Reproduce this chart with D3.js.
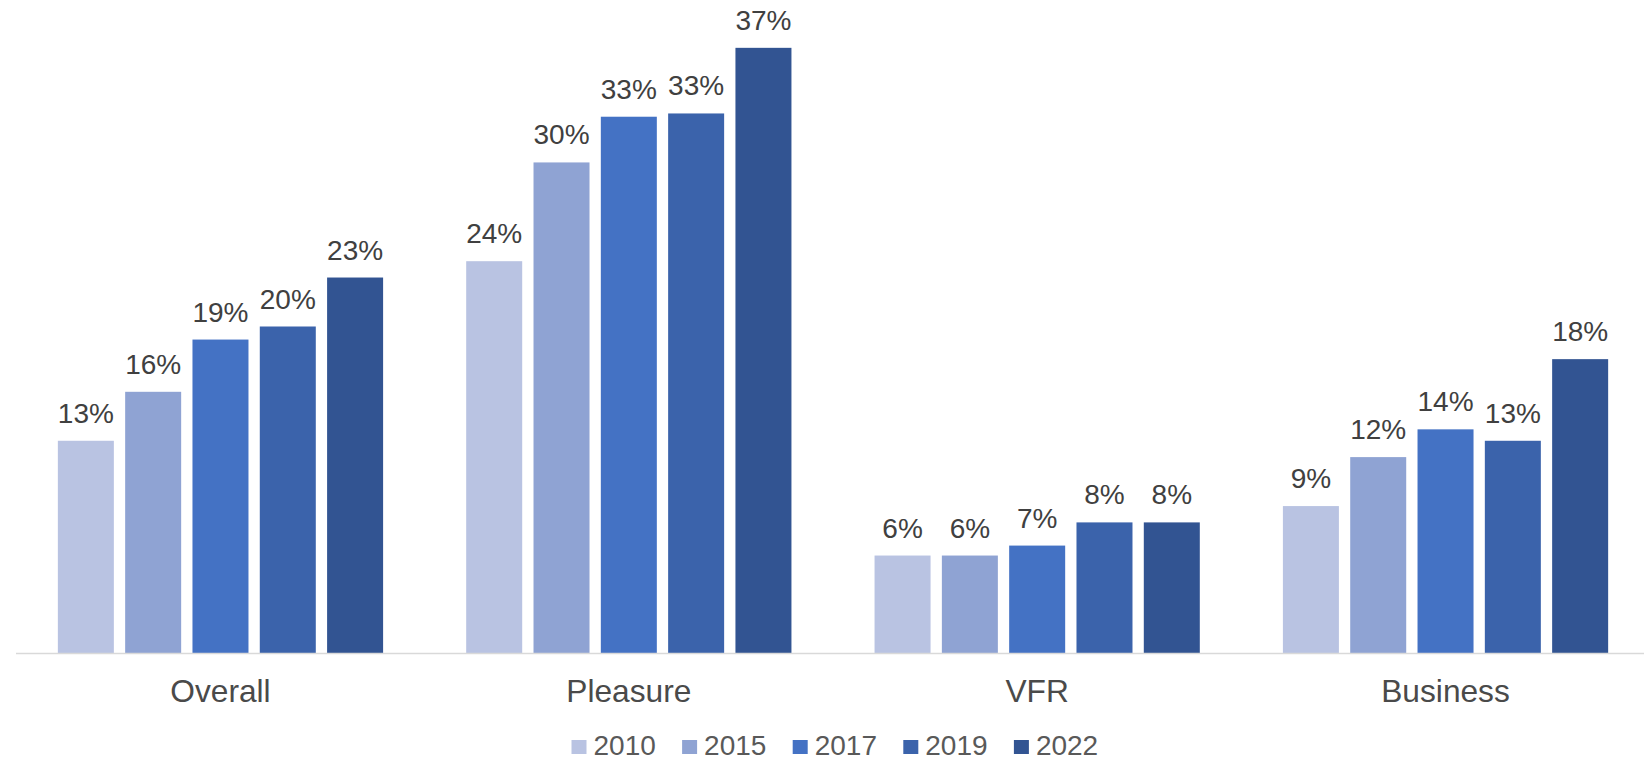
<html>
<head>
<meta charset="utf-8">
<script src="https://d3js.org/d3.v7.min.js"></script>
<style>
  body { margin: 0; background: #fff; }
  svg text { font-family: "Liberation Sans", Arial, sans-serif; }
</style>
</head>
<body>
<svg id="chart" width="1644" height="761"></svg>
<script>
// categories and series (share of trips, %)
var categories = ["Overall", "Pleasure", "VFR", "Business"];
var years = ["2010", "2015", "2017", "2019", "2022"];
var v2010 = [13.0, 24.0, 5.97, 9.0];
var v2015 = [16.0, 30.05, 5.97, 12.0];
var v2017 = [19.2, 32.85, 6.58, 13.7];
var v2019 = [20.0, 33.05, 8.0, 13.0];
var v2022 = [23.0, 37.07, 8.0, 18.0];
var colors = ['#b9c3e2', '#8fa3d3', '#4472c4', '#3b63ab', '#325492'];

var series = [v2010, v2015, v2017, v2019, v2022];

var svg = d3.select("#chart");
var baseY = 653;

var x0 = d3.scaleBand()
  .domain(categories)
  .range([16.3, 16.3 + 4 * 408.35])
  .paddingInner(0.2035)
  .paddingOuter(0.10175);

var x1 = d3.scaleBand()
  .domain(years)
  .range([0, x0.bandwidth()])
  .paddingInner(0.168);

var y = d3.scaleLinear()
  .domain([0, 40])
  .range([baseY, baseY - 40 * 16.325]);

var color = d3.scaleOrdinal().domain(years).range(colors);

// flatten to rows
var rows = [];
categories.forEach(function(c, i) {
  years.forEach(function(yr, j) {
    rows.push({cat: c, year: yr, value: series[j][i]});
  });
});

// bars
svg.selectAll("rect.bar")
  .data(rows)
  .enter()
  .append("rect")
    .attr("class", "bar")
    .attr("x", function(d) { return x0(d.cat) + x1(d.year); })
    .attr("y", function(d) { return y(d.value); })
    .attr("width", x1.bandwidth())
    .attr("height", function(d) { return baseY - y(d.value); })
    .style("fill", function(d) { return color(d.year); });

// data labels
svg.selectAll("text.lbl")
  .data(rows)
  .enter()
  .append("text")
    .attr("class", "lbl")
    .attr("x", function(d) { return x0(d.cat) + x1(d.year) + x1.bandwidth() / 2; })
    .attr("y", function(d) { return y(d.value) - 18; })
    .attr("text-anchor", "middle")
    .style("font-size", "28px")
    .style("fill", "#404040")
    .text(function(d) { return Math.round(d.value) + "%"; });

// axis line
svg.append("line")
  .attr("x1", 16).attr("x2", 1644)
  .attr("y1", baseY + 0.5).attr("y2", baseY + 0.5)
  .style("stroke", "#d9d9d9")
  .style("stroke-width", 1.6);

// category labels
svg.selectAll("text.cat")
  .data(categories)
  .enter()
  .append("text")
    .attr("class", "cat")
    .attr("x", function(d) { return x0(d) + x0.bandwidth() / 2; })
    .attr("y", 702.3)
    .attr("text-anchor", "middle")
    .style("font-size", "31.7px")
    .style("fill", "#4a4a4a")
    .text(function(d) { return d; });

// legend (kept just inside the bottom edge)
var legStep = 110.6;
var legStart = 837 - (legStep * years.length - 22) / 2;
var leg = svg.selectAll("g.leg")
  .data(years)
  .enter()
  .append("g")
    .attr("class", "leg")
    .attr("transform", function(d, i) { return "translate(" + (legStart + i * legStep) + ",0)"; });

leg.append("rect")
  .attr("x", 0).attr("y", 740)
  .attr("width", 15).attr("height", 14)
  .style("fill", function(d) { return color(d); });

leg.append("text")
  .attr("x", 22).attr("y", 755)
  .style("font-size", "28px")
  .style("fill", "#595959")
  .text(function(d) { return d; });
</script>
</body>
</html>
